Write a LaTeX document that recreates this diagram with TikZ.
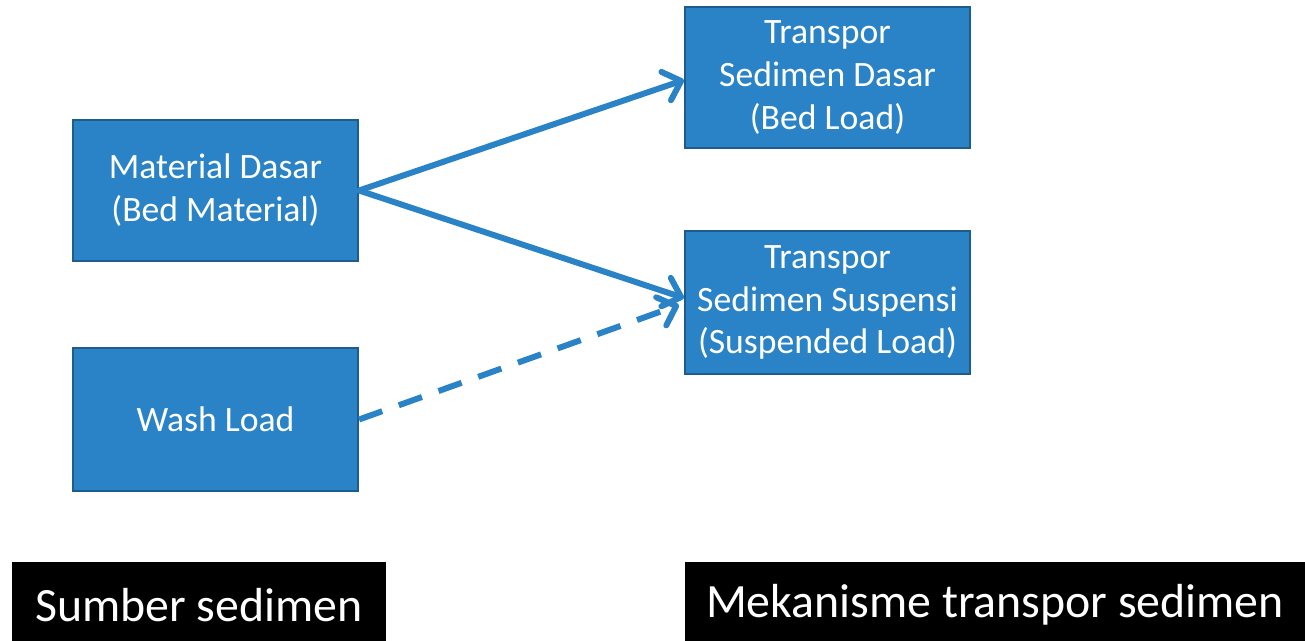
\documentclass[tikz,border=0pt]{standalone}
\usepackage{fontspec}
\setmainfont{Carlito}
\usepackage{xcolor}
\usepackage{tikz}
\usetikzlibrary{arrows.meta,calc}
\definecolor{boxfill}{HTML}{2A83C6}
\definecolor{boxline}{HTML}{1F5C8E}
\tikzset{
  blok/.style={draw=boxline, line width=1.2pt, fill=boxfill, text=white,
    minimum width=5.7cm, minimum height=2.82cm, inner sep=0pt,
    align=center, font=\fontsize{20.3}{24.4}\selectfont},
  judul/.style={fill=black, text=white, minimum height=1.72cm, inner sep=0pt,
    font=\fontsize{27.2}{30}\selectfont},
  panah/.style={draw=boxfill, line width=3.4pt, line cap=round,
    -{Straight Barb[length=9pt,width=17pt,round]}},
  putus/.style={panah, line cap=butt, dash pattern=on 14pt off 10pt},
}

\begin{document}
\begin{tikzpicture}
  \useasboundingbox (0,0) rectangle (26.1,-12.82);

  % sumber sedimen
  \node[blok] (mat)  at (4.31,-3.81) {Material Dasar\\(Bed Material)};
  \node[blok, minimum height=2.86cm] (wash) at (4.31,-8.39) {Wash Load};

  % mekanisme transpor
  \node[blok] (bed)  at (16.55,-1.55) {Transpor\\Sedimen Dasar\\(Bed Load)};
  \node[blok, minimum height=2.86cm] (susp) at (16.55,-6.05) {Transpor\\Sedimen Suspensi\\(Suspended Load)};

  \draw[panah] (mat.east) -- ($(bed.west)+(0,-0.05)$);
  \draw[panah] (mat.east) -- ($(susp.west)+(0,0.09)$);
  \draw[putus] (wash.east) -- ($(susp.west)+(-0.1,-0.05)$);

  % keterangan bawah
  \node[judul, minimum width=7.48cm] (ksumber) at (3.98,-12.1) {Sumber sedimen};
  \node[judul, minimum width=12.4cm] (kmek) at (19.9,-12.1) {Mekanisme transpor sedimen};
\end{tikzpicture}
\end{document}
